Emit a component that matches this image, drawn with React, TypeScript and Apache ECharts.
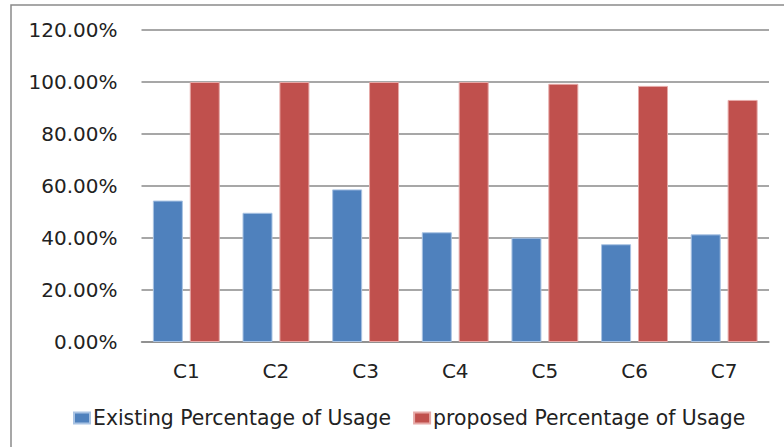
import React, { useEffect, useRef } from "react";
import * as echarts from "echarts";

const categories = ["C1", "C2", "C3", "C4", "C5", "C6", "C7"];
const existingUsage = [54.4, 49.7, 58.7, 42.2, 40.1, 37.6, 41.4];
const proposedUsage = [100, 100, 100, 100, 99.3, 98.5, 93.1];
const seriesNames = ["Existing Percentage of Usage", "proposed Percentage of Usage"];

const FONT = "DejaVu Sans";

export default function App() {
  const ref = useRef<HTMLDivElement>(null);
  useEffect(() => {
    if (!ref.current) return;
    const chart = echarts.init(ref.current, null, { renderer: "svg" });
    chart.setOption({
      animation: false,
      backgroundColor: "#ffffff",
      graphic: [
        {
          type: "rect",
          shape: { x: 11, y: 5, width: 800, height: 500 },
          style: { fill: "none", stroke: "#8a8a8a", lineWidth: 1.5 },
          silent: true,
          z: -1,
        },
      ],
      grid: { left: 141.5, right: 15, top: 30, bottom: 105 },
      legend: {
        data: seriesNames,
        left: 68,
        top: 403,
        itemWidth: 16,
        itemHeight: 11,
        itemGap: 22,
        icon: "rect",
        textStyle: { fontFamily: FONT, fontSize: 20.4, color: "#222", padding: [0, 0, 0, -2] },
      },
      xAxis: {
        type: "category",
        data: categories,
        axisLine: { show: true, lineStyle: { color: "#8a8a8a", width: 1.5 } },
        axisTick: { show: false },
        axisLabel: { fontFamily: FONT, fontSize: 20, color: "#222", margin: 19 },
      },
      yAxis: {
        type: "value",
        min: 0,
        max: 120,
        interval: 20,
        axisLine: { show: false },
        axisTick: { show: false },
        splitLine: { lineStyle: { color: "#8a8a8a", width: 1.5 } },
        axisLabel: {
          fontFamily: FONT,
          fontSize: 20,
          color: "#222",
          margin: 24,
          formatter: (v: number) => v.toFixed(2) + "%",
        },
      },
      series: [
        {
          name: seriesNames[0],
          type: "bar",
          data: existingUsage,
          barWidth: 30,
          barGap: "23%",
          itemStyle: { color: "#4F81BD", borderColor: "#a9c3e3", borderWidth: 1 },
        },
        {
          name: seriesNames[1],
          type: "bar",
          data: proposedUsage,
          barWidth: 30,
          barGap: "23%",
          itemStyle: { color: "#C0504D", borderColor: "#e6a9a7", borderWidth: 1 },
        },
      ],
    });
    return () => chart.dispose();
  }, []);
  return <div ref={ref} style={{ width: 784, height: 447, position: "absolute", left: 0, top: 0 }} />;
}
